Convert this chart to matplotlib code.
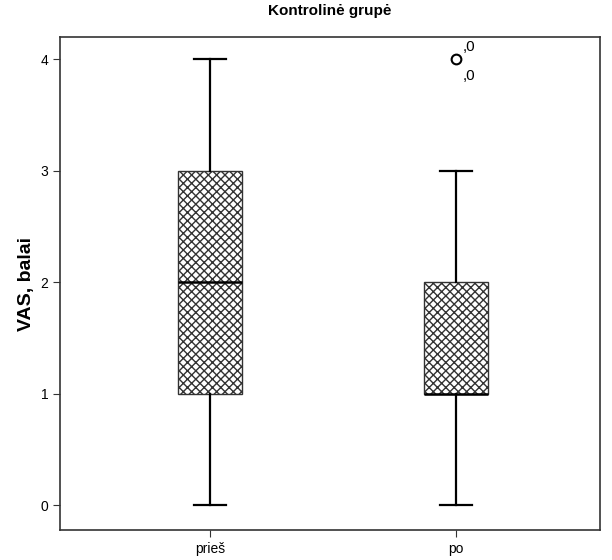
import matplotlib
matplotlib.use('Agg')
import matplotlib.pyplot as plt

plt.rcParams['font.family'] = ['Liberation Sans', 'DejaVu Sans']
plt.rcParams['hatch.linewidth'] = 1.0

groups = ['prieš', 'po']
whislo = [0, 0]
q1 = [1, 1]
med = [2, 1]
q3 = [3, 2]
whishi = [4, 3]
outliers = [[], [4, 4]]
outlier_labels = [[], [',0', ',0']]

stats = []
for i, g in enumerate(groups):
    stats.append({'label': g, 'whislo': whislo[i], 'q1': q1[i], 'med': med[i],
                  'q3': q3[i], 'whishi': whishi[i], 'fliers': outliers[i]})

fig = plt.figure(figsize=(6.12, 5.6), dpi=100)
ax = fig.add_axes([0.098, 0.0536, 0.882, 0.88])

bp = ax.bxp(stats, positions=[1, 2], widths=0.26, patch_artist=True,
            showfliers=False,
            boxprops=dict(facecolor='white', edgecolor='#333333', linewidth=1, hatch='xxxx'),
            medianprops=dict(color='black', linewidth=1.8),
            whiskerprops=dict(color='black', linewidth=1.6),
            capprops=dict(color='black', linewidth=1.6),
            capwidths=0.13)

# outliers drawn separately so labels can sit beside them
for i, vals in enumerate(outliers):
    if vals:
        ax.plot([i + 1], [vals[0]], marker='o', markersize=7, markerfacecolor='white',
                markeredgecolor='black', markeredgewidth=1.5, linestyle='none')
        ax.annotate(outlier_labels[i][0], (i + 1, vals[1]), xytext=(5, 6),
                    textcoords='offset points', fontsize=11)
        ax.annotate(outlier_labels[i][1], (i + 1, vals[1]), xytext=(5, -15),
                    textcoords='offset points', fontsize=11)

ax.set_xlim(0.39, 2.585)
ax.set_ylim(-0.224, 4.197)
ax.set_yticks([0, 1, 2, 3, 4])
ax.set_xticks([1, 2])
ax.set_xticklabels(groups)
ax.tick_params(direction='out', length=5, labelsize=10, colors='#333333', labelcolor='black')
for s in ax.spines.values():
    s.set_color('#333333')
    s.set_linewidth(1.2)

ax.set_ylabel('VAS, balai', fontsize=14, fontweight='bold')
ax.set_title('Kontrolinė grupė', fontsize=11, fontweight='bold', pad=16)

fig.savefig('out.png', dpi=100)
